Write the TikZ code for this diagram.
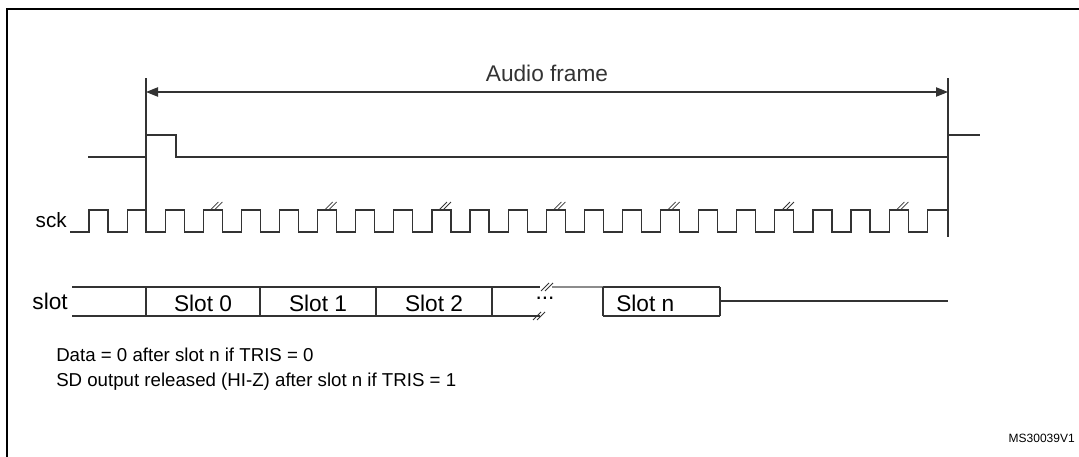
\documentclass[tikz,border=0pt]{standalone}
\usepackage{fontspec}
\setmainfont{Liberation Sans}
\usetikzlibrary{calc}
\usetikzlibrary{arrows.meta}
\tikzset{
  sig/.style={black!80,line width=0.9pt},
  lbl/.style={font=\fontsize{17}{19}\selectfont,inner sep=0pt},
  note/.style={font=\fontsize{14}{16}\selectfont,inner sep=0pt},
  brk/.style={black!80,line width=0.6pt},
}
\newcommand{\brkmark}[1]{%
  \draw[brk] ($(#1)+(-5,4)$) --++(8,-8);
  \draw[brk] ($(#1)+(-1,4)$) --++(8,-8);}
\begin{document}
\begin{tikzpicture}[x=0.75pt,y=-0.75pt]
\useasboundingbox (0,0) rectangle (1079,457);
% frame
\draw[line width=1.2pt] (7,9) rectangle (1090,470);
% audio frame limits
\coordinate (L) at (146,78);
\coordinate (R) at (948,78);
\draw[sig] (L) -- (146,233);
\draw[sig] (R) -- (948,237);
\draw[sig,{Triangle[length=9pt,width=7pt]}-{Triangle[length=9pt,width=7pt]}] (146,92) -- (948,92)
  node[lbl,midway,above=7pt] (af) {Audio frame};
% frame sync
\draw[sig] (88,157) --++(58,0) --++(0,-22) --++(30,0) --++(0,22) --++(772,0) --++(0,-22) --++(32,0);
% sck
\node[lbl,font=\fontsize{15.5}{17}\selectfont,anchor=east] (sck) at (67,220) {sck};
\draw[sig] (70,232) -- (89,232)
  \foreach \k in {0,...,21} {
    --++(0,-22) --++(19.05,0) --++(0,22) --++(19.05,0)}
  --++(0,-22) --++(19.5,0);
\foreach \k in {3,6,...,21}
  {\coordinate (b\k) at ({89+38.11*\k+12},206); \brkmark{b\k}}
% slots
\node[lbl,anchor=east] (slot) at (68,301) {slot};
\draw[sig] (72,287) -- (540,287);
\draw[black!45,line width=0.9pt] (552,287) -- (603,287);
\draw[sig] (603,287) -- (720,287);
\draw[sig] (72,316) -- (540,316);
\draw[sig] (603,316) -- (720,316);
\draw[sig] (720,301) -- (948,301);
\foreach \x in {146,260,376,492,603,720}
  \draw[sig] (\x,287) -- (\x,316);
\coordinate (bt) at (546,287); \brkmark{bt}
\coordinate (bb) at (538,316); \brkmark{bb}
\node[lbl] (s0) at (203,303) {Slot 0};
\node[lbl] (s1) at (318,303) {Slot 1};
\node[lbl] (s2) at (434,303) {Slot 2};
\node[lbl] (sd) at (545,298) {...};
\node[lbl,anchor=west] (sn) at (616,303) {Slot n};
% notes
\node[note,anchor=west] (n1) at (56,355) {Data = 0 after slot n if TRIS = 0};
\node[note,anchor=west] (n2) at (56,382) {SD output released (HI-Z) after slot n if TRIS = 1};
\node[anchor=east,inner sep=0pt,font=\fontsize{9}{11}\selectfont] (id) at (1075,438) {MS30039V1};
\end{tikzpicture}
\end{document}
